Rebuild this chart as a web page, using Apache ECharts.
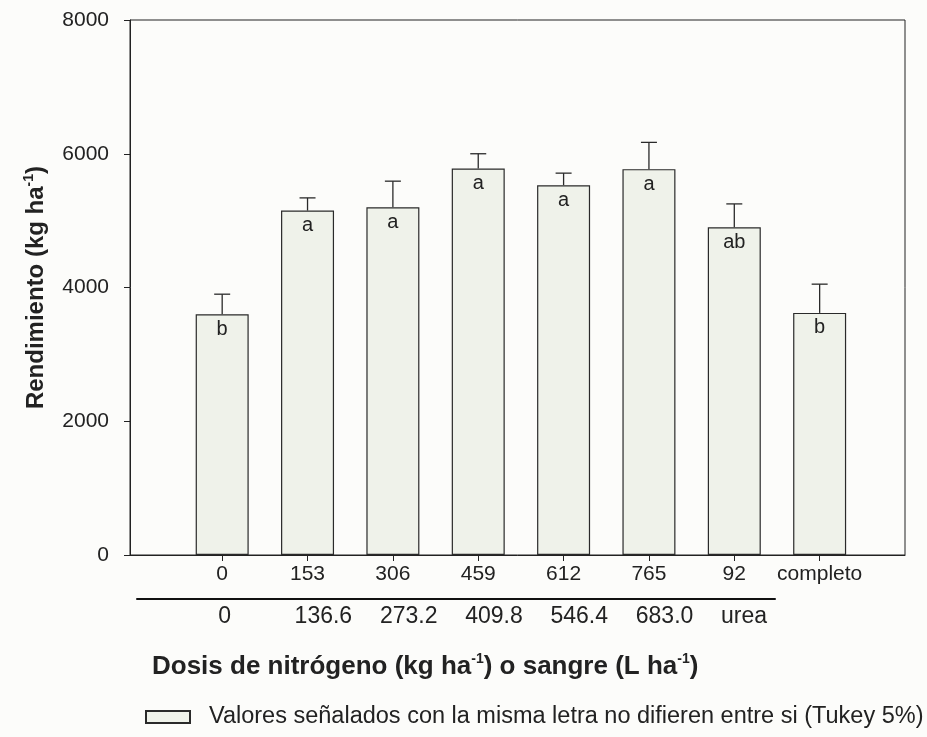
<!DOCTYPE html>
<html>
<head>
<meta charset="utf-8">
<script src="https://cdn.jsdelivr.net/npm/echarts@6/dist/echarts.min.js"></script>
<style>
html, body { margin: 0; padding: 0; background: #fcfcfa; }
#chart { width: 927px; height: 737px; }
</style>
</head>
<body>
<div id="chart"></div>
<script>
// categorias (dosis de N, kg/ha) y equivalente en sangre (L/ha)
var doseN = ['0', '153', '306', '459', '612', '765', '92', 'completo'];
var doseBlood = ['0', '136.6', '273.2', '409.8', '546.4', '683.0', 'urea'];
// rendimiento medio y extremo superior de la barra de error (kg/ha)
var yieldMean = [3600, 5150, 5200, 5780, 5530, 5770, 4900, 3620];
var yieldUpper = [3900, 5340, 5590, 6000, 5710, 6170, 5250, 4050];
// letras de Tukey
var letters = ['b', 'a', 'a', 'a', 'a', 'a', 'ab', 'b'];

var legendName = 'Valores señalados con la misma letra no difieren entre si (Tukey 5%)';
var font = '"Liberation Sans", Arial, sans-serif';

var barData = [];
var errData = [];
for (var i = 0; i < doseN.length; i++) {
  barData.push([i, yieldMean[i]]);
  errData.push([i, yieldMean[i], yieldUpper[i]]);
}
var nIdx = doseN.map(function (d, i) { return i; });
var bIdx = doseBlood.map(function (d, i) { return i; });

var supStyle = { fontSize: 14, fontWeight: 'bold', color: '#222', verticalAlign: 'bottom', padding: [0, 0, 15, 0] };

var chart = echarts.init(document.getElementById('chart'));
chart.setOption({
  backgroundColor: '#fcfcfa',
  animation: false,
  textStyle: { fontFamily: font, color: '#222' },
  legend: {
    left: 140,
    top: 700,
    itemWidth: 44,
    itemHeight: 12,
    icon: 'rect',
    textStyle: { fontSize: 23.5, color: '#222', fontFamily: font, padding: [0, 0, 0, 14] },
    data: [legendName]
  },
  grid: [
    { left: 130, right: 22, top: 20, bottom: 182, show: true, borderColor: '#222', borderWidth: 1 },
    { left: 137, right: 152, top: 598, height: 1 }
  ],
  xAxis: [{
    type: 'value',
    gridIndex: 0,
    min: -1.08,
    max: 8.0,
    splitLine: { show: false },
    axisLine: { show: true, lineStyle: { color: '#222', width: 1 } },
    axisTick: { show: true, customValues: nIdx, length: 6, lineStyle: { color: '#222' } },
    axisLabel: {
      customValues: nIdx,
      margin: 9,
      fontSize: 21,
      color: '#222',
      formatter: function (v) { return doseN[Math.round(v)]; }
    }
  }, {
    type: 'value',
    gridIndex: 1,
    min: -1.0,
    max: 6.48,
    splitLine: { show: false },
    axisLine: { show: true, lineStyle: { color: '#111', width: 2 } },
    axisTick: { show: false },
    axisLabel: {
      customValues: bIdx,
      margin: 6,
      color: '#222',
      align: 'left',
      formatter: function (v) {
        var s = doseBlood[Math.round(v)];
        return s === '0' ? '{z|' + s + '}' : '{n|' + s + '}';
      },
      rich: {
        z: { fontSize: 23, color: '#222', padding: [0, 0, 0, -4] },
        n: { fontSize: 23, color: '#222', padding: [0, 0, 0, -13] }
      }
    }
  }],
  yAxis: [{
    type: 'value',
    gridIndex: 0,
    min: 0,
    max: 8000,
    interval: 2000,
    splitLine: { show: false },
    axisLine: { show: true, onZero: false, lineStyle: { color: '#222', width: 1 } },
    axisTick: { show: true, length: 6, lineStyle: { color: '#222' } },
    axisLabel: {
      fontSize: 21,
      color: '#222',
      margin: 21,
      formatter: function (v) { return String(v); }
    },
    name: 'Rendimiento (kg ha{sup|-1})',
    nameLocation: 'middle',
    nameGap: 79,
    nameTextStyle: {
      fontSize: 24,
      fontWeight: 'bold',
      color: '#222',
      rich: { sup: supStyle }
    }
  }, {
    type: 'value',
    gridIndex: 1,
    show: false
  }],
  title: {
    text: 'Dosis de nitrógeno (kg ha{sup|-1}) o sangre (L ha{sup|-1})',
    left: 147,
    top: 647,
    textStyle: {
      fontSize: 26,
      fontWeight: 'bold',
      color: '#222',
      fontFamily: font,
      rich: { sup: supStyle }
    }
  },
  series: [{
    name: legendName,
    type: 'bar',
    xAxisIndex: 0,
    yAxisIndex: 0,
    barWidth: 53,
    data: barData,
    itemStyle: { color: '#eff2ea', borderColor: '#2a2a2a', borderWidth: 1.2 },
    label: {
      show: true,
      position: 'insideTop',
      distance: 5,
      fontSize: 20,
      color: '#222',
      formatter: function (p) { return letters[p.dataIndex]; }
    }
  }, {
    type: 'custom',
    xAxisIndex: 0,
    yAxisIndex: 0,
    data: errData,
    encode: { x: 0, y: [1, 2] },
    renderItem: function (params, api) {
      var base = api.coord([api.value(0), api.value(1)]);
      var top = api.coord([api.value(0), api.value(2)]);
      var cap = 8;
      var st = { stroke: '#2a2a2a', lineWidth: 1.3 };
      return {
        type: 'group',
        children: [
          { type: 'line', shape: { x1: base[0], y1: base[1], x2: top[0], y2: top[1] }, style: st },
          { type: 'line', shape: { x1: top[0] - cap, y1: top[1], x2: top[0] + cap, y2: top[1] }, style: st }
        ]
      };
    }
  }]
});
</script>
</body>
</html>
